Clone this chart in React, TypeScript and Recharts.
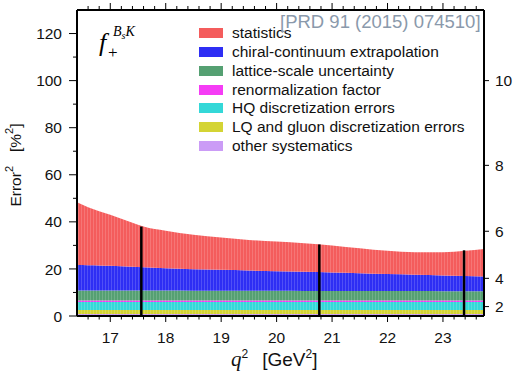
import { AreaChart, Area, XAxis, YAxis, ReferenceLine, Legend } from "recharts";

// q^2 grid in GeV^2
const q2 = [16.4, 16.6, 16.8, 17.0, 17.2, 17.4, 17.6, 18.0, 18.5, 19.0, 19.5, 20.0, 20.5, 21.0, 21.5, 22.0, 22.5, 23.0, 23.4, 23.74];

// error^2 contributions in %^2
const statistics = [26.6, 24.6, 23.0, 21.7, 20.2, 18.7, 17.3, 15.9, 14.6, 13.7, 13.0, 12.6, 12.1, 11.5, 10.6, 9.9, 9.6, 9.9, 10.7, 11.7];
const chiralContinuum = [10.9, 10.8, 10.7, 10.5, 10.3, 10.1, 9.9, 9.5, 9.2, 8.9, 8.6, 8.3, 8.2, 7.9, 7.6, 7.2, 6.9, 6.7, 6.5, 6.3];
const latticeScale = [4.2, 4.2, 4.2, 4.2, 4.2, 4.2, 4.2, 4.2, 4.1, 4.1, 4.1, 4.1, 4.0, 4.0, 4.0, 4.0, 4.0, 3.9, 3.9, 3.9];
const renormalization = [0.6, 0.6, 0.6, 0.6, 0.6, 0.6, 0.6, 0.6, 0.6, 0.6, 0.6, 0.6, 0.6, 0.6, 0.6, 0.6, 0.6, 0.6, 0.6, 0.6];
const hqDiscretization = [3.5, 3.5, 3.5, 3.5, 3.5, 3.5, 3.5, 3.5, 3.5, 3.5, 3.5, 3.5, 3.5, 3.5, 3.5, 3.5, 3.5, 3.5, 3.5, 3.5];
const lqDiscretization = [1.7, 1.7, 1.7, 1.7, 1.7, 1.7, 1.7, 1.7, 1.7, 1.7, 1.7, 1.7, 1.7, 1.7, 1.7, 1.7, 1.7, 1.7, 1.7, 1.7];
const otherSystematics = [0.8, 0.8, 0.8, 0.8, 0.8, 0.8, 0.8, 0.8, 0.8, 0.8, 0.8, 0.8, 0.8, 0.8, 0.8, 0.8, 0.8, 0.8, 0.8, 0.8];

// simulated q^2 points and total error^2 there
const latticeQ2 = [17.56, 20.77, 23.38];
const latticeTotal = [38.0, 30.4, 27.9];

const leftTicks = [0, 10, 20, 30, 40, 50, 60, 70, 80, 90, 100, 110, 120];
const rightTicks = [2, 4, 6, 8, 10]; // error in %, placed at error^2

const series = [
    { key: "stat", name: "statistics", color: "#f45c5c", values: statistics },
    { key: "chiral", name: "chiral-continuum extrapolation", color: "#2e2ef4", values: chiralContinuum },
    { key: "scale", name: "lattice-scale uncertainty", color: "#55a072", values: latticeScale },
    { key: "renorm", name: "renormalization factor", color: "#f53cf5", values: renormalization },
    { key: "hq", name: "HQ discretization errors", color: "#34d8d8", values: hqDiscretization },
    { key: "lq", name: "LQ and gluon discretization errors", color: "#d4d434", values: lqDiscretization },
    { key: "other", name: "other systematics", color: "#cb9cf6", values: otherSystematics },
];

const data = q2.map((q, i) => {
    const row: Record<string, number> = { q2: q };
    series.forEach((s) => {
        row[s.key] = s.values[i];
    });
    return row;
});

const xTicks: number[] = [];
for (let k = 83; k <= 118; k++) xTicks.push(k / 5);

const isMajor = (v: number) => Math.abs(v - Math.round(v)) < 1e-6;

const FONT = "'Liberation Sans', Arial, sans-serif";
const SERIF = "'Liberation Serif', 'Times New Roman', serif";

const LeftTick = (props: any) => {
    const { x, y, payload } = props;
    const major = payload.value % 20 === 0;
    return (
        <g>
            <line x1={x - (major ? 8 : 4)} x2={x} y1={y} y2={y} stroke="#000" strokeWidth={1} />
            {major && (
                <text x={x - 15} y={y} dy="0.36em" textAnchor="end" fontSize={15.5} fontFamily={FONT} fill="#111">
                    {payload.value}
                </text>
            )}
        </g>
    );
};

const RightTick = (props: any) => {
    const { x, y, payload } = props;
    return (
        <g>
            <line x1={x} x2={x + 5} y1={y} y2={y} stroke="#000" strokeWidth={1} />
            <text x={x + 11} y={y} dy="0.36em" textAnchor="start" fontSize={15.5} fontFamily={FONT} fill="#111">
                {Math.round(Math.sqrt(payload.value))}
            </text>
        </g>
    );
};

const BottomTick = (props: any) => {
    const { x, y, payload } = props;
    const major = isMajor(payload.value);
    return (
        <g>
            <line x1={x} x2={x} y1={y} y2={y + (major ? 6 : 3.5)} stroke="#000" strokeWidth={1} />
            {major && (
                <text x={x} y={y + 21} dy="0.36em" textAnchor="middle" fontSize={15.5} fontFamily={FONT} fill="#111">
                    {Math.round(payload.value)}
                </text>
            )}
        </g>
    );
};

const TopTick = (props: any) => {
    const { x, y, payload } = props;
    const major = isMajor(payload.value);
    return <line x1={x} x2={x} y1={y - (major ? 7 : 4)} y2={y} stroke="#000" strokeWidth={1} />;
};

const LegendBox = () => (
    <div style={{ fontFamily: FONT, fontSize: 15.5, color: "#111" }}>
        {series.map((s) => (
            <div key={s.key} style={{ display: "flex", alignItems: "center", height: 18.75 }}>
                <span style={{ display: "inline-block", width: 24, height: 10, background: s.color, marginRight: 9 }} />
                <span style={{ whiteSpace: "nowrap", lineHeight: "18px" }}>{s.name}</span>
            </div>
        ))}
    </div>
);

// raised exponent that does not grow the line box
const Sup = ({ size }: { size: number }) => (
    <span style={{ fontSize: size, position: "relative", top: -size * 0.7, lineHeight: 0 }}>2</span>
);

export default function App() {
    return (
        <div style={{ position: "absolute", left: 0, top: 0, width: 517, height: 372, fontFamily: FONT }}>
            <AreaChart width={517} height={372} data={data} margin={{ top: 0, right: 0, left: 0, bottom: 0 }}>
                <defs>
                    {series.map((s) => (
                        <pattern key={s.key} id={`stripe-${s.key}`} width={3} height={10} patternUnits="userSpaceOnUse">
                            <rect width={3} height={10} fill={s.color} />
                            <rect width={1} height={10} fill="#ffffff" opacity={0.16} />
                        </pattern>
                    ))}
                </defs>
                <XAxis
                    xAxisId="bottom"
                    dataKey="q2"
                    type="number"
                    domain={[16.4, 23.74]}
                    allowDataOverflow
                    ticks={xTicks}
                    interval={0}
                    height={56}
                    tickSize={0}
                    tickMargin={0}
                    tickLine={false}
                    axisLine={{ stroke: "#000", strokeWidth: 2 }}
                    tick={<BottomTick />}
                />
                <XAxis
                    xAxisId="top"
                    orientation="top"
                    dataKey="q2"
                    type="number"
                    domain={[16.4, 23.74]}
                    allowDataOverflow
                    ticks={xTicks}
                    interval={0}
                    height={10}
                    tickSize={0}
                    tickMargin={0}
                    tickLine={false}
                    axisLine={{ stroke: "#000", strokeWidth: 2 }}
                    tick={<TopTick />}
                />
                <YAxis
                    yAxisId="left"
                    type="number"
                    domain={[0, 130]}
                    allowDataOverflow
                    ticks={leftTicks}
                    interval={0}
                    width={77}
                    tickSize={0}
                    tickMargin={0}
                    tickLine={false}
                    axisLine={{ stroke: "#000", strokeWidth: 2 }}
                    tick={<LeftTick />}
                />
                <YAxis
                    yAxisId="right"
                    orientation="right"
                    type="number"
                    domain={[0, 130]}
                    allowDataOverflow
                    ticks={rightTicks.map((e) => e * e)}
                    interval={0}
                    width={33}
                    tickSize={0}
                    tickMargin={0}
                    tickLine={false}
                    axisLine={{ stroke: "#000", strokeWidth: 2 }}
                    tick={<RightTick />}
                />
                {[...series].reverse().map((s) => (
                    <Area
                        key={s.key}
                        xAxisId="bottom"
                        yAxisId="left"
                        type="monotone"
                        dataKey={s.key}
                        name={s.name}
                        stackId="err"
                        stroke="none"
                        fill={`url(#stripe-${s.key})`}
                        fillOpacity={1}
                        isAnimationActive={false}
                        dot={false}
                        activeDot={false}
                    />
                ))}
                {latticeQ2.map((q, i) => (
                    <ReferenceLine
                        key={q}
                        xAxisId="bottom"
                        yAxisId="left"
                        segment={[
                            { x: q, y: 0 },
                            { x: q, y: latticeTotal[i] },
                        ]}
                        stroke="#000"
                        strokeWidth={2.5}
                    />
                ))}
                <Legend
                    layout="vertical"
                    align="center"
                    verticalAlign="middle"
                    content={<LegendBox />}
                    wrapperStyle={{ left: 199, top: 24, width: "auto", height: "auto" }}
                />
            </AreaChart>

            {/* form factor label f_+^{B_s K} */}
            <span style={{ position: "absolute", left: 99, top: 30, fontFamily: SERIF, fontStyle: "italic", fontSize: 26, lineHeight: "26px" }}>
                f
            </span>
            <span style={{ position: "absolute", left: 108, top: 44, fontFamily: SERIF, fontSize: 17, lineHeight: "17px" }}>+</span>
            <span style={{ position: "absolute", left: 113, top: 25, fontFamily: SERIF, fontStyle: "italic", fontSize: 14, lineHeight: "14px", whiteSpace: "nowrap" }}>
                B<span style={{ fontSize: 10, position: "relative", top: 3 }}>s</span>K
            </span>

            <span style={{ position: "absolute", left: 280, top: 12, fontSize: 18.5, lineHeight: "20px", color: "#8a99ab", whiteSpace: "nowrap" }}>
                [PRD 91 (2015) 074510]
            </span>

            <div
                style={{
                    position: "absolute",
                    left: 16,
                    top: 165,
                    transform: "translate(-50%, -50%) rotate(-90deg)",
                    fontSize: 15.5,
                    lineHeight: "18px",
                    whiteSpace: "nowrap",
                    color: "#111",
                }}
            >
                Error<Sup size={11} />
                <span style={{ marginLeft: 14 }}>
                    [%<Sup size={11} />]
                </span>
            </div>

            <div style={{ position: "absolute", left: 231, top: 348, whiteSpace: "nowrap", color: "#111", lineHeight: "22px" }}>
                <span style={{ fontFamily: SERIF, fontStyle: "italic", fontSize: 21 }}>q</span>
                <Sup size={12} />
                <span style={{ marginLeft: 14, fontSize: 19 }}>
                    [GeV<Sup size={12} />]
                </span>
            </div>
        </div>
    );
}
